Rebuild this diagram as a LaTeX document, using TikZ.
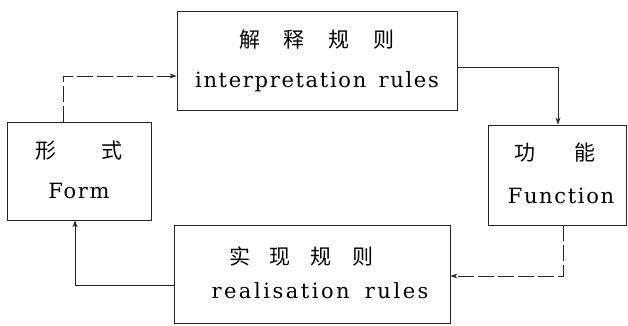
\documentclass[tikz,border=0pt]{standalone}
\usepackage{fontspec}
\setmainfont{DejaVu Serif}
\newfontfamily\cjk{Noto Sans CJK SC}
\newfontfamily\latinsp[LetterSpace=8]{DejaVu Serif}
\newfontfamily\latinspw[LetterSpace=12]{DejaVu Serif}
\usetikzlibrary{arrows.meta}
\begin{document}
\begin{tikzpicture}[x=1pt,y=-1pt,
  box/.style={draw=black!85,line width=0.8pt,rectangle,inner sep=0pt},
  cjktext/.style={inner sep=0pt,font=\cjk\fontsize{21}{21}\selectfont},
  entext/.style={inner sep=0pt,anchor=base,font=\latinsp\fontsize{21}{21}\selectfont},
  entextw/.style={inner sep=0pt,anchor=base,font=\latinspw\fontsize{21}{21}\selectfont},
  conn/.style={draw=black!85,line width=0.8pt,-{Stealth[length=7pt,width=5pt]}},
  dconn/.style={conn,dash pattern=on 16pt off 4pt}]
\useasboundingbox (0,0) rectangle (628,325);
% boxes
\node[box,minimum width=280pt,minimum height=99pt] (top) at (317,60.5) {};
\node[box,minimum width=144pt,minimum height=98pt] (form) at (79,171) {};
\node[box,minimum width=138pt,minimum height=100pt] (func) at (557.5,175) {};
\node[box,minimum width=276pt,minimum height=98pt] (bot) at (312,274) {};
% texts
\node[cjktext] (topcn) at (317,40) {解\hspace{24pt}释\hspace{24pt}规\hspace{24pt}则};
\node[entext] (topen) at (317,87) {interpretation\hspace{4pt} rules};
\node[cjktext] (formcn) at (79,151) {形\hspace{46pt}式};
\node[entext] (formen) at (79,198) {Form};
\node[cjktext] (funccn) at (555,153) {功\hspace{40pt}能};
\node[entext] (funcen) at (561,203) {Function};
\node[cjktext] (botcn) at (301,256) {实\hspace{20pt}现\hspace{20pt}规\hspace{20pt}则};
\node[entextw] (boten) at (320,298) {realisation\hspace{6pt} rules};
% connector coordinates
\coordinate (k1) at (63,76);
\coordinate (k2) at (558,67);
\coordinate (k3) at (563,276);
\coordinate (k4) at (75,285);
% connectors
\draw[dconn] (form.north -| k1) |- (top.west |- k1);
\draw[conn] (top.east |- k2) -| (func.north -| k2);
\draw[dconn] (func.south -| k3) |- (bot.east |- k3);
\draw[conn] (bot.west |- k4) -| (form.south -| k4);
\end{tikzpicture}
\end{document}
